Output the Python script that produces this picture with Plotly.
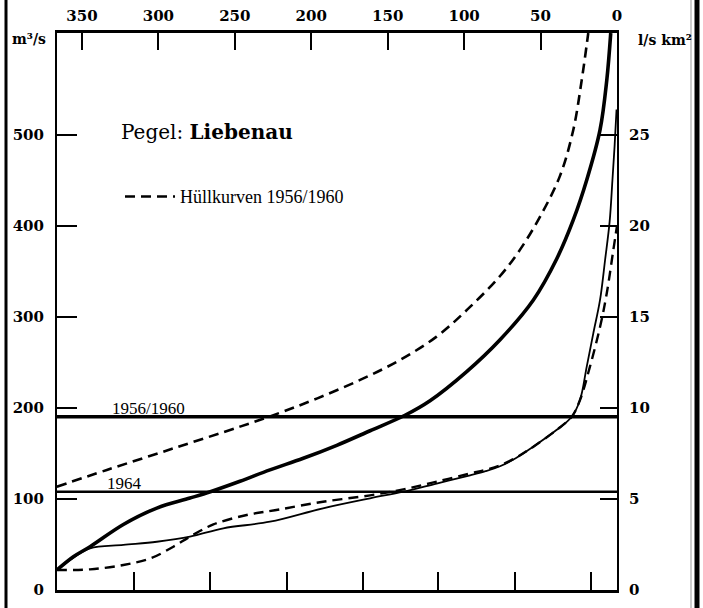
import plotly.graph_objects as go

# ---------------- data ----------------
# x: top axis (0..350, reversed), y: discharge in m³/s
upper_env_x = [366.4, 333.7, 290.0, 246.6, 220.0, 196.0, 168.0, 142.0, 118.0, 98.0, 76.5, 63.4, 50.4, 37.3, 28.6, 23.1, 18.8]
upper_env_y = [113.5, 131.9, 155.7, 179.5, 195.0, 210.6, 230.8, 252.7, 278.4, 308.0, 345.0, 374.0, 410.0, 455.0, 505.5, 560.0, 612.0]

mean_x = [366.4, 355.6, 344.7, 322.9, 301.0, 279.3, 266.0, 246.6, 227.0, 205.2, 183.3, 161.5, 138.7, 122.3, 98.3, 76.5, 54.7, 39.4, 28.6, 19.8, 11.1, 6.7, 4.1]
mean_y = [22.0, 36.6, 47.6, 72.0, 90.0, 101.0, 108.0, 119.5, 132.0, 144.7, 159.0, 175.0, 192.0, 208.0, 240.0, 275.0, 318.7, 364.0, 406.6, 450.5, 505.5, 560.0, 612.0]

thin_x = [366.4, 355.6, 344.7, 322.9, 301.0, 279.3, 257.5, 227.0, 192.3, 161.5, 139.8, 118.0, 96.1, 86.0, 76.5, 66.0, 54.7, 39.4, 29.6, 24.2, 19.8, 15.5, 11.1, 7.8, 4.8, 3.0, 1.5, 0.3]
thin_y = [22.0, 35.5, 45.8, 49.5, 53.0, 58.6, 67.8, 75.0, 89.8, 100.8, 108.0, 117.0, 126.0, 130.5, 136.0, 145.0, 157.5, 176.0, 190.4, 208.8, 245.4, 282.0, 318.7, 362.6, 405.0, 450.0, 490.0, 528.0]

lower_env_x = [366.4, 344.7, 322.9, 305.1, 290.2, 279.3, 264.0, 242.2, 220.4, 192.3, 161.5, 139.8, 118.0, 96.1, 86.0, 76.5, 66.0, 54.7, 39.4, 29.6, 24.2, 17.7, 11.1, 6.7, 2.4, 0.0]
lower_env_y = [22.0, 22.7, 27.5, 34.8, 47.6, 58.6, 72.0, 82.4, 88.6, 97.0, 104.0, 110.6, 119.0, 128.0, 132.0, 137.0, 145.5, 157.5, 176.0, 190.4, 208.8, 245.4, 289.0, 326.0, 373.6, 400.0]

level_1956_1960 = 190.4
level_1964 = 108.0

x_ticks_top = [0, 50, 100, 150, 200, 250, 300, 350]
x_ticks_bottom = [316, 266, 216, 166, 117, 67, 17]
y_ticks_left = [0, 100, 200, 300, 400, 500]
y_ticks_right = [0, 5, 10, 15, 20, 25]

X_RANGE = [366.3, 0]
Y_RANGE = [0, 612]
SPEC_FACTOR = 20.0  # m³/s per l/s km²

SERIF = "DejaVu Serif"
TIMES = "Liberation Serif"
DASH = "10px,6px"
SMOOTH = 1.0

fig = go.Figure()

fig.add_trace(go.Scatter(x=upper_env_x, y=upper_env_y, mode="lines",
                         line=dict(color="black", width=2.6, dash=DASH, shape="spline", smoothing=SMOOTH),
                         name="Hüllkurven 1956/1960", showlegend=True, hoverinfo="skip"))
fig.add_trace(go.Scatter(x=lower_env_x, y=lower_env_y, mode="lines",
                         line=dict(color="black", width=2.4, dash=DASH, shape="spline", smoothing=SMOOTH),
                         showlegend=False, hoverinfo="skip"))
fig.add_trace(go.Scatter(x=thin_x, y=thin_y, mode="lines",
                         line=dict(color="black", width=1.8, shape="spline", smoothing=SMOOTH),
                         showlegend=False, hoverinfo="skip"))
fig.add_trace(go.Scatter(x=mean_x, y=mean_y, mode="lines",
                         line=dict(color="black", width=3.6, shape="spline", smoothing=SMOOTH),
                         showlegend=False, hoverinfo="skip"))

# horizontal reference levels
fig.add_trace(go.Scatter(x=X_RANGE, y=[level_1956_1960] * 2, mode="lines",
                         line=dict(color="black", width=3.4), showlegend=False, hoverinfo="skip"))
fig.add_trace(go.Scatter(x=X_RANGE, y=[level_1964] * 2, mode="lines",
                         line=dict(color="black", width=2.4), showlegend=False, hoverinfo="skip"))

# dummy traces to activate the secondary axes
fig.add_trace(go.Scatter(x=[None], y=[None], xaxis="x2", yaxis="y", showlegend=False, hoverinfo="skip"))
fig.add_trace(go.Scatter(x=[None], y=[None], xaxis="x", yaxis="y2", showlegend=False, hoverinfo="skip"))

tickfont = dict(family=SERIF, size=15, color="black", weight="bold")

fig.update_layout(
    width=703, height=608,
    margin=dict(l=57, r=86, t=33, b=18, pad=0, autoexpand=False),
    paper_bgcolor="white", plot_bgcolor="white",
    xaxis=dict(range=X_RANGE, side="top", tickvals=x_ticks_top, ticks="inside", ticklen=17,
               tickwidth=2, tickcolor="black", showgrid=False, zeroline=False,
               showline=True, linecolor="black", linewidth=3, tickfont=tickfont,
               ticklabelstandoff=3, automargin=False),
    xaxis2=dict(range=X_RANGE, side="bottom", overlaying="x", anchor="y", tickvals=x_ticks_bottom,
                ticks="inside", ticklen=18, tickwidth=2, tickcolor="black", showticklabels=False,
                showgrid=False, zeroline=False, showline=True, linecolor="black", linewidth=2.5,
                automargin=False),
    yaxis=dict(range=Y_RANGE, tickvals=y_ticks_left, ticks="inside", ticklen=20, tickwidth=2,
               tickcolor="black", showgrid=False, zeroline=False, showline=True,
               linecolor="black", linewidth=2, tickfont=tickfont, ticklabelstandoff=8,
               automargin=False),
    yaxis2=dict(range=[Y_RANGE[0] / SPEC_FACTOR, Y_RANGE[1] / SPEC_FACTOR], side="right",
                overlaying="y", anchor="x", tickvals=y_ticks_right, ticks="inside", ticklen=17,
                tickwidth=2, tickcolor="black", showgrid=False, zeroline=False, showline=True,
                linecolor="black", linewidth=2, tickfont=tickfont, ticklabelstandoff=7,
                automargin=False),
    legend=dict(x=0.1125, y=0.706, xanchor="left", yanchor="middle", bgcolor="rgba(0,0,0,0)",
                font=dict(family=TIMES, size=18, color="black"), borderwidth=0, itemwidth=50),
    showlegend=True,
)

annotations = [
    dict(text="Pegel: <b>Liebenau</b>", xref="paper", yref="paper", x=0.11, y=0.823,
         xanchor="left", yanchor="middle", showarrow=False,
         font=dict(family=SERIF, size=20, color="black")),
    dict(text="1956/1960", xref="x", yref="y", x=331.6, y=level_1956_1960, xanchor="left",
         yanchor="bottom", yshift=-3, showarrow=False,
         font=dict(family=TIMES, size=17, color="black")),
    dict(text="1964", xref="x", yref="y", x=334.6, y=level_1964, xanchor="left",
         yanchor="bottom", yshift=-3, showarrow=False,
         font=dict(family=TIMES, size=17, color="black")),
    dict(text="m³/s", xref="paper", yref="paper", x=-0.05, y=0.99, xanchor="center",
         yanchor="middle", showarrow=False, font=dict(family=SERIF, size=14, color="black", weight="bold")),
    dict(text="l/s km²", xref="paper", yref="paper", x=1.085, y=0.987, xanchor="center",
         yanchor="middle", showarrow=False, font=dict(family=SERIF, size=14, color="black", weight="bold")),
]
fig.update_layout(annotations=annotations)

# scan-edge frame lines outside the plot
def px_to_paper_x(px):
    return (px - 57) / 560.0

fig.update_layout(shapes=[
    dict(type="line", xref="paper", yref="paper", x0=px_to_paper_x(6), x1=px_to_paper_x(6),
         y0=-0.04, y1=1.07, line=dict(color="black", width=3)),
    dict(type="line", xref="paper", yref="paper", x0=px_to_paper_x(697), x1=px_to_paper_x(697),
         y0=-0.04, y1=1.07, line=dict(color="black", width=5)),
    dict(type="line", xref="paper", yref="paper", x0=px_to_paper_x(691), x1=px_to_paper_x(691),
         y0=-0.04, y1=1.07, line=dict(color="#999999", width=1)),
])

fig.write_html("out.html")
